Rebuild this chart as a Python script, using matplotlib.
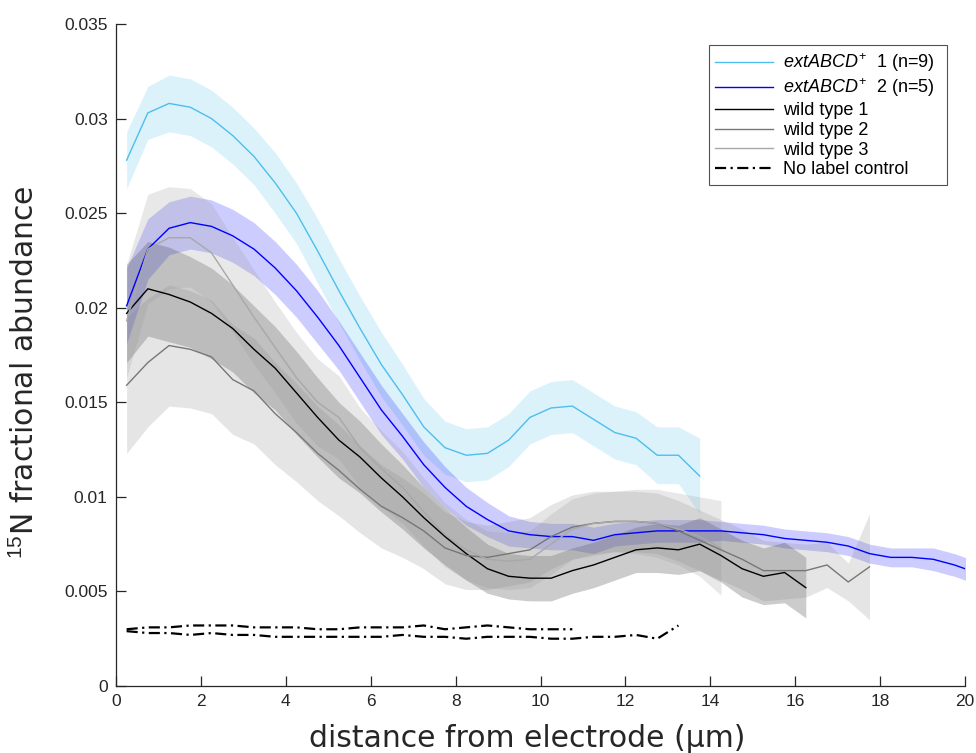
import numpy as np
import matplotlib
matplotlib.use("Agg")
import matplotlib.pyplot as plt

plt.rcParams['font.family'] = ['Liberation Sans', 'DejaVu Sans']
plt.rcParams['mathtext.fontset'] = 'custom'
plt.rcParams['mathtext.it'] = 'Liberation Sans:italic'
plt.rcParams['mathtext.rm'] = 'Liberation Sans'

# ---------------- data ----------------
x_step = 0.5
x_start = 0.25

ext1_mean = [0.0278, 0.0303, 0.0308, 0.0306, 0.0300, 0.0291, 0.0280, 0.0266, 0.0250, 0.0230,
             0.0209, 0.0189, 0.0170, 0.0154, 0.0137, 0.0126, 0.0122, 0.0123, 0.0130, 0.0142,
             0.0147, 0.0148, 0.0141, 0.0134, 0.0131, 0.0122, 0.0122, 0.0111]
ext1_sem = [0.0015, 0.0014, 0.0015, 0.0015, 0.0015, 0.0015, 0.0015, 0.0016, 0.0016, 0.0017,
            0.0017, 0.0017, 0.0017, 0.0016, 0.0015, 0.0014, 0.0014, 0.0014, 0.0014, 0.0014,
            0.0014, 0.0014, 0.0014, 0.0014, 0.0014, 0.0015, 0.0015, 0.0020]

ext2_mean = [0.0201, 0.0231, 0.0242, 0.0245, 0.0243, 0.0238, 0.0231, 0.0221, 0.0209, 0.0195,
             0.0180, 0.0163, 0.0146, 0.0132, 0.0117, 0.0105, 0.0095, 0.0088, 0.0082, 0.0080,
             0.0079, 0.0079, 0.0077, 0.0080, 0.0081, 0.0082, 0.0082, 0.0082, 0.0082, 0.0081,
             0.0080, 0.0078, 0.0077, 0.0076, 0.0074, 0.0070, 0.0068, 0.0068, 0.0067, 0.0064,
             0.0060]
ext2_sem = [0.0020, 0.0016, 0.0014, 0.0014, 0.0014, 0.0014, 0.0014, 0.0014, 0.0014, 0.0014,
            0.0013, 0.0013, 0.0013, 0.0012, 0.0012, 0.0011, 0.0010, 0.0009, 0.0008, 0.0007,
            0.0007, 0.0007, 0.0007, 0.0006, 0.0006, 0.0006, 0.0006, 0.0006, 0.0005, 0.0005,
            0.0005, 0.0005, 0.0005, 0.0005, 0.0005, 0.0005, 0.0005, 0.0005, 0.0006, 0.0006,
            0.0006]

wt1_mean = [0.0197, 0.0210, 0.0207, 0.0203, 0.0197, 0.0189, 0.0178, 0.0168, 0.0155, 0.0142,
            0.0130, 0.0121, 0.0110, 0.0100, 0.0089, 0.0079, 0.0070, 0.0062, 0.0058, 0.0057,
            0.0057, 0.0061, 0.0064, 0.0068, 0.0072, 0.0073, 0.0072, 0.0075, 0.0069, 0.0062,
            0.0058, 0.0060, 0.0052]
wt1_sem = [0.0026, 0.0025, 0.0025, 0.0024, 0.0024, 0.0023, 0.0023, 0.0022, 0.0022, 0.0021,
           0.0020, 0.0019, 0.0018, 0.0017, 0.0016, 0.0015, 0.0014, 0.0013, 0.0012, 0.0012,
           0.0012, 0.0012, 0.0012, 0.0012, 0.0012, 0.0013, 0.0013, 0.0014, 0.0014, 0.0015,
           0.0015, 0.0016, 0.0016]

wt2_mean = [0.0159, 0.0171, 0.0180, 0.0178, 0.0174, 0.0162, 0.0156, 0.0144, 0.0134, 0.0123,
            0.0114, 0.0104, 0.0095, 0.0089, 0.0082, 0.0073, 0.0069, 0.0068, 0.0070, 0.0072,
            0.0079, 0.0084, 0.0086, 0.0087, 0.0087, 0.0086, 0.0082, 0.0077, 0.0072, 0.0067,
            0.0061, 0.0061, 0.0061, 0.0064, 0.0055, 0.0063]
wt2_sem = [0.0036, 0.0034, 0.0032, 0.0031, 0.0030, 0.0029, 0.0028, 0.0027, 0.0026, 0.0025,
           0.0024, 0.0023, 0.0022, 0.0021, 0.0020, 0.0019, 0.0018, 0.0017, 0.0017, 0.0017,
           0.0017, 0.0017, 0.0017, 0.0016, 0.0016, 0.0016, 0.0016, 0.0016, 0.0016, 0.0016,
           0.0016, 0.0015, 0.0014, 0.0012, 0.0010, 0.0028]

wt3_mean = [0.0193, 0.0231, 0.0237, 0.0237, 0.0229, 0.0212, 0.0195, 0.0179, 0.0163, 0.0150,
            0.0142, 0.0126, 0.0115, 0.0105, 0.0092, 0.0080, 0.0072, 0.0067, 0.0066, 0.0067,
            0.0075, 0.0083, 0.0086, 0.0087, 0.0087, 0.0086, 0.0083, 0.0079, 0.0073]
wt3_sem = [0.0030, 0.0029, 0.0027, 0.0026, 0.0026, 0.0025, 0.0025, 0.0024, 0.0024, 0.0023,
           0.0022, 0.0021, 0.0020, 0.0019, 0.0018, 0.0017, 0.0016, 0.0015, 0.0015, 0.0015,
           0.0016, 0.0016, 0.0016, 0.0016, 0.0017, 0.0018, 0.0019, 0.0021, 0.0025]

ctrl1 = [0.0030, 0.0031, 0.0031, 0.0032, 0.0032, 0.0032, 0.0031, 0.0031, 0.0031, 0.0030,
         0.0030, 0.0031, 0.0031, 0.0031, 0.0032, 0.0030, 0.0031, 0.0032, 0.0031, 0.0030,
         0.0030, 0.0030]
ctrl2 = [0.0029, 0.0028, 0.0028, 0.0027, 0.0028, 0.0027, 0.0027, 0.0026, 0.0026, 0.0026,
         0.0026, 0.0026, 0.0026, 0.0027, 0.0026, 0.0026, 0.0025, 0.0026, 0.0026, 0.0026,
         0.0025, 0.0025, 0.0026, 0.0026, 0.0027, 0.0025, 0.0032]

labels = [r'$\mathit{extABCD}^{+}$  1 (n=9)  ', r'$\mathit{extABCD}^{+}$  2 (n=5)',
          'wild type 1', 'wild type 2', 'wild type 3', 'No label control']

xticks = [0, 2, 4, 6, 8, 10, 12, 14, 16, 18, 20]
yticks = [0, 0.005, 0.01, 0.015, 0.02, 0.025, 0.03, 0.035]
ytick_labels = ['0', '0.005', '0.01', '0.015', '0.02', '0.025', '0.03', '0.035']

# ---------------- plot ----------------
def xs(n):
    return x_start + x_step * np.arange(n)

fig = plt.figure(figsize=(9.76, 7.53), dpi=100)
ax = fig.add_axes([116/976, 1 - 686/753, (965 - 116)/976, (686 - 24)/753])

series = [
    (ext1_mean, ext1_sem, '#4DBEEE'),
    (ext2_mean, ext2_sem, '#0000FF'),
    (wt1_mean, wt1_sem, '#000000'),
    (wt2_mean, wt2_sem, '#777777'),
    (wt3_mean, wt3_sem, '#A8A8A8'),
]
fill_cols = ['#4DBEEE', '#0000FF', '#000000', '#808080', '#909090']
for (m, s, c), fc in zip(series, fill_cols):
    m = np.array(m); s = np.array(s); x = xs(len(m))
    ax.fill_between(x, m - s, m + s, color=fc, alpha=0.2, lw=0, zorder=1)

handles = []
for (m, s, c) in series:
    x = xs(len(m))
    h, = ax.plot(x, m, color=c, lw=1.0, zorder=3)
    handles.append(h)

hc, = ax.plot(xs(len(ctrl1)), ctrl1, color='black', lw=1.6, dashes=(5, 2, 1, 2), zorder=3)
ax.plot(xs(len(ctrl2)), ctrl2, color='black', lw=1.6, dashes=(5, 2, 1, 2), zorder=3)
handles.append(hc)

ax.set_xlim(0, 20)
ax.set_ylim(0, 0.035)
ax.set_xticks(xticks)
ax.set_xticklabels([str(t) for t in xticks])
ax.set_yticks(yticks)
ax.set_yticklabels(ytick_labels)
for sp in ['top', 'right']:
    ax.spines[sp].set_visible(False)
for sp in ['left', 'bottom']:
    ax.spines[sp].set_color('#262626')
    ax.spines[sp].set_linewidth(0.9)
ax.tick_params(direction='in', length=7, width=0.9, color='#262626',
               labelsize=12.5, labelcolor='#262626', pad=6)

ax.set_xlabel('distance from electrode (µm)', family='DejaVu Sans', fontsize=21.5,
              color='#262626')
ax.xaxis.set_label_coords((527 - 116) / 849, (686 - 724) / 662)
ax.set_ylabel(r'$^{15}$N fractional abundance', family='DejaVu Sans', fontsize=21.5,
              color='#262626')
ax.yaxis.set_label_coords((40 - 116) / 849, (686 - 372) / 662)

leg = ax.legend(handles, labels, loc='upper right',
                bbox_to_anchor=((947 - 116) / 849, (686 - 45) / 662),
                fontsize=13, frameon=True, fancybox=False, handlelength=3.2,
                labelspacing=0.15, borderpad=0.35, handletextpad=0.55, borderaxespad=0)
leg.get_frame().set_edgecolor('#262626')
leg.get_frame().set_linewidth(0.8)

fig.savefig('out.png', dpi=100)
